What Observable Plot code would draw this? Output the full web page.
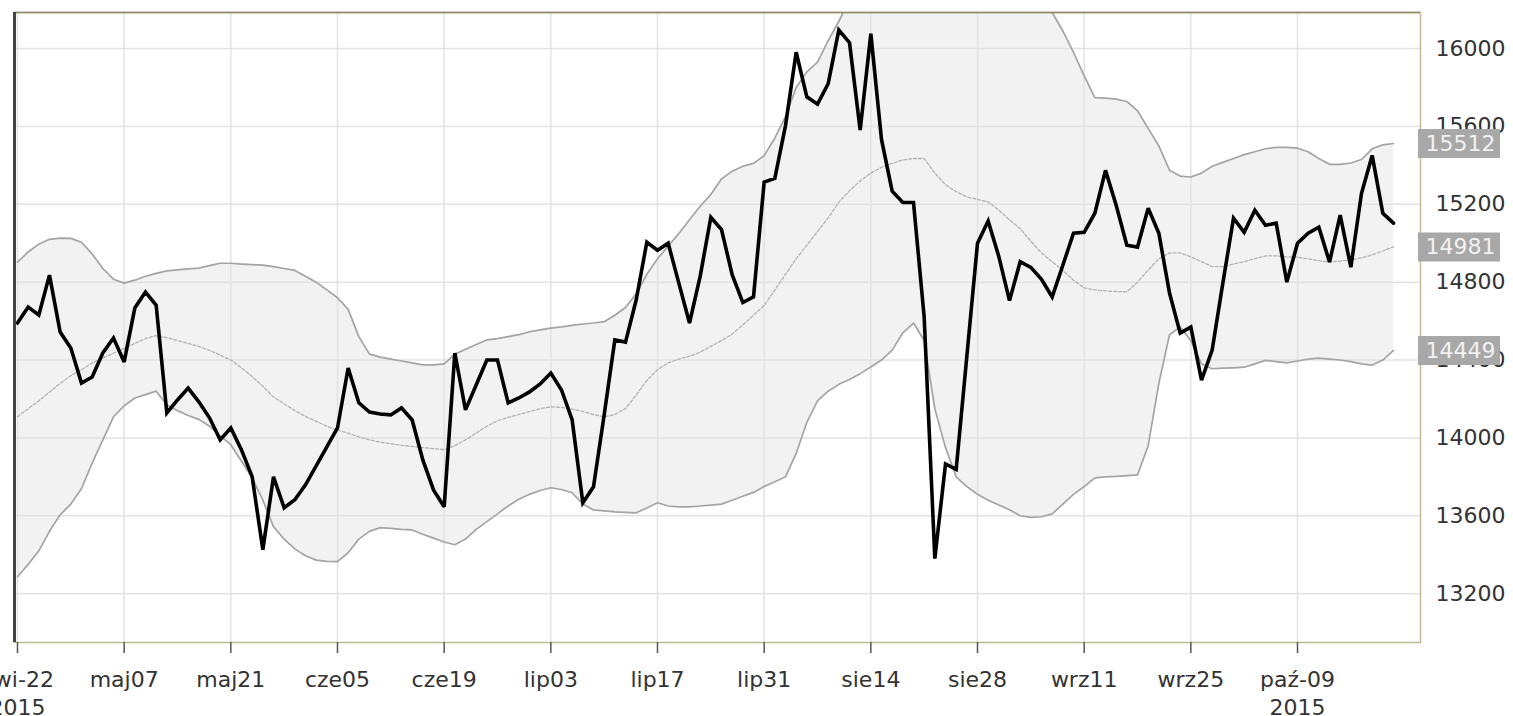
<!DOCTYPE html>
<html>
<head>
<meta charset="utf-8">
<script src="https://cdn.jsdelivr.net/npm/d3@7"></script>
<script src="https://cdn.jsdelivr.net/npm/@observablehq/plot@0.6"></script>
<style>
  html, body { margin: 0; padding: 0; background: #fff; }
  #chart svg { display: block; }
</style>
</head>
<body>
<div id="chart"></div>
<script>
// Session index of each x tick and its label (trading-day axis, every 10 sessions)
const tickIndex = [0, 10, 20, 30, 40, 50, 60, 70, 80, 90, 100, 110, 120];
const tickLabels = ["kwi-22\n2015", "maj07", "maj21", "cze05", "cze19", "lip03", "lip17",
                    "lip31", "sie14", "sie28", "wrz11", "wrz25", "paź-09\n2015"];
const yTicks = [13200, 13600, 14000, 14400, 14800, 15200, 15600, 16000];

// Closing values, one per session (kwi-22 ... paź-22 2015)
const close = [
  14590, 14672, 14631, 14836, 14544, 14462, 14282, 14313, 14436, 14513,
  14390, 14667, 14749, 14682, 14128, 14195, 14256, 14185, 14103, 13990,
  14051, 13938, 13800, 13426, 13800, 13641, 13682, 13759, 13856, 13954,
  14051, 14359, 14180, 14133, 14123, 14118, 14154, 14092, 13887, 13733,
  13646, 14436, 14144, 14272, 14400, 14400, 14180, 14205, 14236, 14277,
  14333, 14246, 14092, 13667, 13749, 14118, 14503, 14492, 14708, 15005,
  14964, 15000, 14795, 14590, 14830, 15133, 15070, 14838, 14695, 14724,
  15314, 15333, 15604, 15981, 15752, 15714, 15819, 16095, 16030, 15581,
  16076, 15533, 15267, 15209, 15209, 14620, 13380, 13866, 13838, 14419,
  15000, 15114, 14931, 14705, 14905, 14876, 14815, 14724, 14887, 15051,
  15056, 15154, 15374, 15195, 14990, 14980, 15180, 15051, 14744, 14538,
  14569, 14297, 14451, 14795, 15128, 15056, 15169, 15092, 15103, 14800,
  15000, 15051, 15082, 14903, 15144, 14877, 15256, 15451, 15154, 15103
];

// Upper Bollinger band
const upper = [
  14903, 14955, 14995, 15020, 15026, 15025, 15005, 14945, 14870, 14815,
  14795, 14810, 14830, 14845, 14858, 14863, 14868, 14872, 14885, 14897,
  14897, 14893, 14890, 14887, 14880, 14870, 14860, 14830, 14800, 14760,
  14720, 14660, 14520, 14430, 14415, 14405, 14395, 14385, 14375, 14375,
  14380, 14430, 14455, 14480, 14503, 14510, 14520, 14530, 14545, 14555,
  14564, 14570, 14578, 14585, 14590, 14597, 14630, 14670, 14740, 14840,
  14920, 14985, 15050, 15120, 15190, 15250, 15330, 15370, 15395, 15410,
  15450, 15540, 15650, 15800, 15880, 15930, 16040, 16140, 16250, 16300,
  16390, 16450, 16490, 16520, 16540, 16600, 16700, 16720, 16730, 16720,
  16700, 16700, 16650, 16600, 16520, 16420, 16300, 16185, 16090, 15980,
  15860, 15748, 15745, 15740, 15728, 15680, 15590, 15500, 15375, 15345,
  15340, 15360, 15395, 15415, 15435, 15455, 15470, 15485, 15492, 15492,
  15488, 15470, 15435, 15405, 15405, 15412, 15430, 15485, 15505, 15512
];

// Middle band (20-session average)
const middle = [
  14108, 14150, 14190, 14235, 14280, 14320, 14350, 14385, 14410, 14435,
  14460, 14485, 14510, 14525, 14515, 14500, 14485, 14470, 14450, 14425,
  14400, 14360, 14315, 14265, 14210, 14175, 14140, 14110, 14085, 14060,
  14040, 14025, 14005, 13990, 13978, 13970, 13962, 13956, 13950, 13945,
  13940, 13960, 13990, 14025, 14060, 14088, 14105, 14120, 14135, 14150,
  14159, 14157, 14148, 14135, 14120, 14108, 14120, 14150, 14220, 14295,
  14350, 14385, 14405, 14420, 14440, 14470, 14500, 14533, 14580, 14630,
  14680, 14760, 14840, 14920, 14990, 15060, 15130, 15210, 15270, 15320,
  15360, 15390, 15410, 15428, 15435, 15435, 15360, 15300, 15265, 15238,
  15225, 15212, 15170, 15120, 15075, 15010, 14950, 14905, 14860, 14810,
  14770, 14760, 14755, 14752, 14750, 14800, 14862, 14920, 14950, 14950,
  14930, 14905, 14880, 14880, 14893, 14905, 14920, 14935, 14935, 14930,
  14928, 14920, 14910, 14903, 14908, 14915, 14925, 14940, 14960, 14981
];

// Lower Bollinger band
const lower = [
  13287, 13350, 13420, 13520, 13605, 13660, 13740, 13870, 13990, 14108,
  14165, 14205, 14222, 14240, 14170, 14140, 14115, 14095, 14060, 14010,
  13965, 13880, 13795, 13680, 13544, 13480, 13430, 13395, 13372, 13366,
  13364, 13410, 13480, 13520, 13539, 13535, 13530, 13527, 13505, 13485,
  13465, 13451, 13480, 13530, 13570, 13610, 13650, 13685, 13710, 13730,
  13744, 13735, 13718, 13660, 13630, 13625, 13620, 13617, 13615, 13640,
  13667, 13650, 13646, 13646, 13650, 13655, 13660, 13680, 13700, 13720,
  13750, 13775, 13800, 13920, 14080, 14190, 14240, 14275, 14300, 14330,
  14364, 14400, 14451, 14540, 14590, 14500, 14150, 13950, 13800, 13750,
  13710, 13680, 13655, 13631, 13600, 13592, 13595, 13610, 13660, 13710,
  13750, 13795, 13800, 13802, 13806, 13810, 13960, 14280, 14530, 14570,
  14500, 14380, 14355, 14358, 14360, 14363, 14380, 14398, 14392, 14385,
  14395, 14405, 14410, 14405, 14400, 14392, 14380, 14374, 14400, 14449
];

// Last values shown in the grey boxes on the right
const lastValues = [15512, 14981, 14449];

const xDomain = [-0.28, 131.53];
const yDomain = [12949, 16185];

const rows = close.map((c, i) => ({i, close: c, upper: upper[i], middle: middle[i], lower: lower[i]}));
const labelOf = new Map(tickIndex.map((t, k) => [t, tickLabels[k]]));

const font = "'DejaVu Sans', Verdana, sans-serif";

const chart = Plot.plot({
  width: 1513,
  height: 716,
  marginLeft: 14,
  marginRight: 93,
  marginTop: 12,
  marginBottom: 74,
  style: {fontFamily: font, fontSize: "22px", background: "#ffffff", color: "#333"},
  x: {domain: xDomain, axis: null, label: null},
  y: {domain: yDomain, axis: null, label: null},
  marks: [
    Plot.areaY(rows, {x: "i", y1: "lower", y2: "upper", fill: "#f2f2f2", clip: true}),
    Plot.gridY(yTicks, {stroke: "#e2e2e2", strokeOpacity: 1, strokeWidth: 1.5}),
    Plot.gridX(tickIndex, {stroke: "#e2e2e2", strokeOpacity: 1, strokeWidth: 1.5}),
    Plot.lineY(rows, {x: "i", y: "upper", stroke: "#a4a4a4", strokeWidth: 1.7, clip: true}),
    Plot.lineY(rows, {x: "i", y: "lower", stroke: "#a4a4a4", strokeWidth: 1.7, clip: true}),
    Plot.lineY(rows, {x: "i", y: "middle", stroke: "#b2b2b2", strokeWidth: 1.3, strokeDasharray: "3,2", clip: true}),
    Plot.lineY(rows, {x: "i", y: "close", stroke: "#000", strokeWidth: 3.6, strokeLinejoin: "miter", strokeMiterlimit: 3}),
    Plot.frame({stroke: "#c2ba90", strokeWidth: 1.5}),
    Plot.ruleY([yDomain[1]], {stroke: "#8e8964", strokeWidth: 1.5}),
    Plot.ruleX([xDomain[0]], {stroke: "#444", strokeWidth: 3}),
    Plot.axisY(yTicks, {anchor: "right", label: null, tickSize: 0, tickPadding: 15, tickFormat: d => String(d), fill: "#333"}),
    Plot.axisX(tickIndex, {anchor: "bottom", label: null, tickSize: 11, tickPadding: 14, tickFormat: d => labelOf.get(d),
                           stroke: "#555", strokeWidth: 1.5, fill: "#333", lineHeight: 1.27}),
    Plot.tickY(lastValues, {y: d => d, stroke: "#a8a8a8", strokeWidth: 29, insetLeft: 1404, insetRight: -80}),
    Plot.text(lastValues, {y: d => d, text: d => String(d), frameAnchor: "right", dx: 40,
                           textAnchor: "middle", fill: "#f2f2f2"})
  ]
});

document.getElementById("chart").appendChild(chart);
</script>
</body>
</html>
